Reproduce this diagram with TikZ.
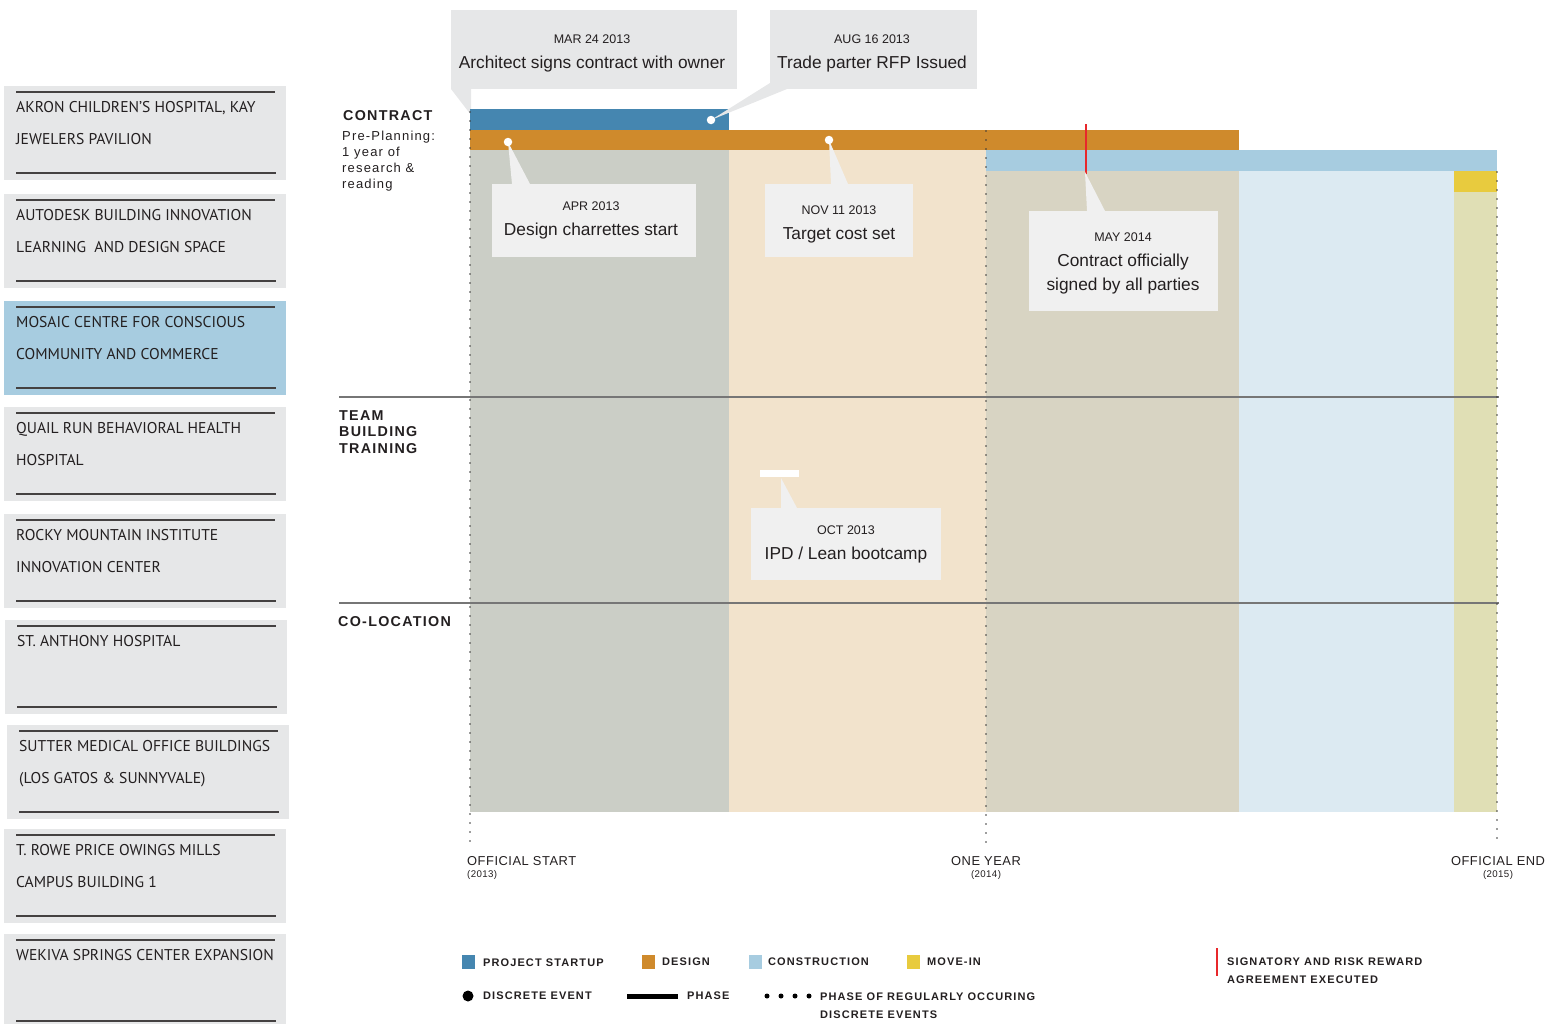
\documentclass[tikz,border=0pt]{standalone}
\usepackage{fontspec}
\setmainfont{Liberation Sans}
\newfontfamily\listfont{PT Sans}
\newfontfamily\headfont[LetterSpace=9]{Liberation Sans}
\newfontfamily\legfont[LetterSpace=10]{Liberation Sans}
\newfontfamily\axfont[LetterSpace=4]{Liberation Sans}
\definecolor{startup}{HTML}{4586B0}
\definecolor{design}{HTML}{CF8A2C}
\definecolor{constr}{HTML}{A7CCE0}
\definecolor{movein}{HTML}{E8CB3E}
\definecolor{colA}{HTML}{CBCEC6}
\definecolor{colB}{HTML}{F2E3CC}
\definecolor{colC}{HTML}{D8D4C3}
\definecolor{colD}{HTML}{DCEAF2}
\definecolor{colE}{HTML}{E0DFB5}
\definecolor{listgray}{HTML}{E6E7E8}
\definecolor{calllight}{HTML}{F0F0F0}
\definecolor{ink}{HTML}{231F20}
\definecolor{sigred}{HTML}{E8282B}
\definecolor{sepgray}{HTML}{767676}
\definecolor{dotgray}{HTML}{3A3A3A}
\newcommand{\projitem}[5]{%
  \node[listbox,fill=#4] (#1) at (#2,#3) {};
  \draw[listline] (#2+12,#3+6) -- (#2+271,#3+6);
  \draw[listline] (#2+12,#3+87) -- (#2+272,#3+87);
  \node[listtext] (#1t) at (#2+12,#3+15.5) {#5};
}
\begin{document}
\begin{tikzpicture}[x=1pt,y=-1pt,
  blk/.style={rectangle,inner sep=0pt,outer sep=0pt,anchor=north west,draw=none},
  listbox/.style={blk,minimum width=282pt,minimum height=94pt},
  listline/.style={draw=ink!85,line width=1.3pt},
  listtext/.style={anchor=north west,inner sep=0pt,align=left,text=ink,font=\listfont\fontsize{15.6}{32}\selectfont},
  callA/.style={blk,fill=listgray},
  callB/.style={blk,fill=calllight},
  datetxt/.style={inner sep=0pt,anchor=center,text=ink,font=\fontsize{12.5}{15}\selectfont},
  maintxt/.style={inner sep=0pt,anchor=base,text=ink,align=center,font=\fontsize{17.3}{24}\selectfont},
  wdot/.style={circle,fill=white,inner sep=0pt,minimum size=8.5pt},
  dotline/.style={draw=dotgray,line width=1.9pt,line cap=round,dash pattern=on 0pt off 9pt},
  rowhead/.style={anchor=north west,inner sep=0pt,align=left,text=ink,font=\headfont\bfseries\fontsize{14.3}{16.5}\selectfont},
  axlabel/.style={inner sep=0pt,text=ink,font=\axfont\fontsize{12.9}{15}\selectfont},
  axyear/.style={inner sep=0pt,text=ink,font=\axfont\fontsize{9.7}{11}\selectfont},
  legsq/.style={blk,minimum width=13pt,minimum height=14pt},
  legtxt/.style={anchor=west,inner sep=0pt,text=ink,font=\legfont\bfseries\fontsize{11}{18}\selectfont},
]
\useasboundingbox (0,0) rectangle (1549,1023);

% ---------- project list ----------
\projitem{p1}{4}{86}{listgray}{AKRON CHILDREN’S HOSPITAL, KAY\\JEWELERS PAVILION}
\projitem{p2}{4}{194}{listgray}{AUTODESK BUILDING INNOVATION\\LEARNING\ \ AND DESIGN SPACE}
\projitem{p3}{4}{301}{constr}{MOSAIC CENTRE FOR CONSCIOUS\\COMMUNITY AND COMMERCE}
\projitem{p4}{4}{407}{listgray}{QUAIL RUN BEHAVIORAL HEALTH\\HOSPITAL}
\projitem{p5}{4}{514}{listgray}{ROCKY MOUNTAIN INSTITUTE\\INNOVATION CENTER}
\projitem{p6}{5}{620}{listgray}{ST. ANTHONY HOSPITAL}
\projitem{p7}{7}{725}{listgray}{SUTTER MEDICAL OFFICE BUILDINGS\\(LOS GATOS \& SUNNYVALE)}
\projitem{p8}{4}{829}{listgray}{T. ROWE PRICE OWINGS MILLS\\CAMPUS BUILDING 1}
\projitem{p9}{4}{934}{listgray}{WEKIVA SPRINGS CENTER EXPANSION}

% ---------- phase columns ----------
\node[blk,fill=colA,minimum width=259pt,minimum height=662pt] (colA) at (470,150) {};
\node[blk,fill=colB,minimum width=257pt,minimum height=662pt] (colB) at (729,150) {};
\node[blk,fill=colC,minimum width=253pt,minimum height=641pt] (colC) at (986,171) {};
\node[blk,fill=colD,minimum width=215pt,minimum height=641pt] (colD) at (1239,171) {};
\node[blk,fill=colE,minimum width=43pt,minimum height=620pt] (colE) at (1454,192) {};
\node[blk,fill=movein,minimum width=43pt,minimum height=21pt] (moveinbar) at (1454,171) {};

% ---------- top callout (MAR) pointer behind bars ----------
\node[callA,minimum width=286pt,minimum height=79pt] (mar) at (451,10) {};
\coordinate (marpt) at (471,115);
\fill[listgray] (mar.south west) -- ([xshift=20pt]mar.south west) -- (marpt) -- cycle;

% ---------- bars ----------
\node[blk,fill=startup,minimum width=259pt,minimum height=21pt] (startbar) at (470,109) {};
\node[blk,fill=design,minimum width=769pt,minimum height=20pt] (designbar) at (470,130) {};
\node[blk,fill=constr,minimum width=511pt,minimum height=21pt] (constrbar) at (986,150) {};

% ---------- separators ----------
\draw[sepgray,line width=1.3pt] (339,397) -- (1499,397);
\draw[sepgray,line width=1.3pt] (339,603) -- (1499,603);

% ---------- dotted time lines ----------
\coordinate (tstart) at (470,845);
\coordinate (tone) at (986,845);
\coordinate (tend) at (1497,845);
\draw[dotline] (470,112) -- (tstart);
\draw[dotline] (986,131) -- (tone);
\draw[dotline] (1497,172) -- (tend);

% ---------- signatory line ----------
\draw[sigred,line width=2.2pt] (1086,124) -- (1086,174);

% ---------- callouts ----------
\node[datetxt] (mard) at (592,39) {MAR 24 2013};
\node[maintxt] (mart) at (592,68) {Architect signs contract with owner};

\node[callA,minimum width=207pt,minimum height=79pt] (aug) at (770,10) {};
\coordinate (augdot) at (711,120);
\fill[listgray] ([yshift=6pt]aug.south west) -- ([xshift=17pt]aug.south west) -- (augdot) -- cycle;
\node[datetxt] (augd) at (872,39) {AUG 16 2013};
\node[maintxt] (augt) at (872,68) {Trade parter RFP Issued};
\node[wdot] (augdotn) at (augdot) {};

\node[callB,minimum width=204pt,minimum height=73pt] (apr) at (492,184) {};
\coordinate (aprdot) at (508,142);
\fill[calllight] (aprdot) -- ([xshift=20pt]apr.north west) -- ([xshift=38pt]apr.north west) -- cycle;
\node[wdot] (aprdotn) at (aprdot) {};
\node[datetxt] (aprd) at (591,206) {APR 2013};
\node[maintxt] (aprt) at (591,235) {Design charrettes start};

\node[callB,minimum width=148pt,minimum height=73pt] (nov) at (765,184) {};
\coordinate (novdot) at (829,140);
\fill[calllight] (novdot) -- ([xshift=66pt]nov.north west) -- ([xshift=83pt]nov.north west) -- cycle;
\node[wdot] (novdotn) at (novdot) {};
\node[datetxt] (novd) at (839,210) {NOV 11 2013};
\node[maintxt] (novt) at (839,239) {Target cost set};

\node[callB,minimum width=189pt,minimum height=100pt] (may) at (1029,211) {};
\coordinate (maypt) at (1085,172);
\fill[calllight] (maypt) -- ([xshift=58pt]may.north west) -- ([xshift=76pt]may.north west) -- cycle;
\node[datetxt] (mayd) at (1123,237) {MAY 2014};
\node[maintxt,anchor=north] (mayt) at (1123,254) {Contract officially\\signed by all parties};

\node[blk,fill=white,minimum width=39pt,minimum height=7pt] (octbar) at (760,470) {};
\node[callB,minimum width=190pt,minimum height=72pt] (oct) at (751,508) {};
\coordinate (octpt) at (781,478);
\fill[calllight] (octpt) -- ([xshift=30pt]oct.north west) -- ([xshift=46pt]oct.north west) -- cycle;
\node[datetxt] (octd) at (846,530) {OCT 2013};
\node[maintxt] (octt) at (846,559) {IPD / Lean bootcamp};

% ---------- row headings ----------
\node[rowhead] (hcontract) at (343,110) {CONTRACT};
\node[anchor=north west,inner sep=0pt,align=left,text=ink,font=\headfont\fontsize{13}{16}\selectfont] (hpre) at (342,131) {Pre-Planning:\\1 year of\\research \&\\reading};
\node[rowhead] (hteam) at (339,410) {TEAM\\BUILDING\\TRAINING};
\node[rowhead] (hcoloc) at (338,616) {CO-LOCATION};

% ---------- axis labels ----------
\node[axlabel,anchor=west] (lstart) at (467,861) {OFFICIAL START};
\node[axyear,anchor=west] (ystart) at (467,875) {(2013)};
\node[axlabel] (lone) at (986,861) {ONE YEAR};
\node[axyear] (yone) at (986,875) {(2014)};
\node[axlabel] (lend) at (1498,861) {OFFICIAL END};
\node[axyear] (yend) at (1498,875) {(2015)};

% ---------- legend ----------
\node[legsq,fill=startup] (lg1) at (462,955) {};
\node[legtxt] (lg1t) at (483,963) {PROJECT STARTUP};
\node[legsq,fill=design] (lg2) at (642,955) {};
\node[legtxt] (lg2t) at (662,962) {DESIGN};
\node[legsq,fill=constr] (lg3) at (749,955) {};
\node[legtxt] (lg3t) at (768,962) {CONSTRUCTION};
\node[legsq,fill=movein] (lg4) at (907,955) {};
\node[legtxt] (lg4t) at (927,962) {MOVE-IN};
\node[circle,fill=black,inner sep=0pt,minimum size=11pt] (lgdot) at (468,996) {};
\node[legtxt] (lgdott) at (483,996) {DISCRETE EVENT};
\node[blk,fill=black,minimum width=51pt,minimum height=4.5pt] (lgbar) at (627,994) {};
\node[legtxt] (lgbart) at (687,996) {PHASE};
\foreach \xx [count=\k] in {767,781,795,809}
  \node[circle,fill=black,inner sep=0pt,minimum size=5pt] (lgd\k) at (\xx,996) {};
\node[legtxt,anchor=north west,align=left] (lgdt) at (820,993) {PHASE OF REGULARLY OCCURING\\DISCRETE EVENTS};
\coordinate (sigtop) at (1217,948);
\coordinate (sigbot) at (1217,976);
\draw[sigred,line width=2pt] (sigtop) -- (sigbot);
\node[legtxt,anchor=north west,align=left] (lgsig) at (1227,958) {SIGNATORY AND RISK REWARD\\AGREEMENT EXECUTED};
\end{tikzpicture}
\end{document}
